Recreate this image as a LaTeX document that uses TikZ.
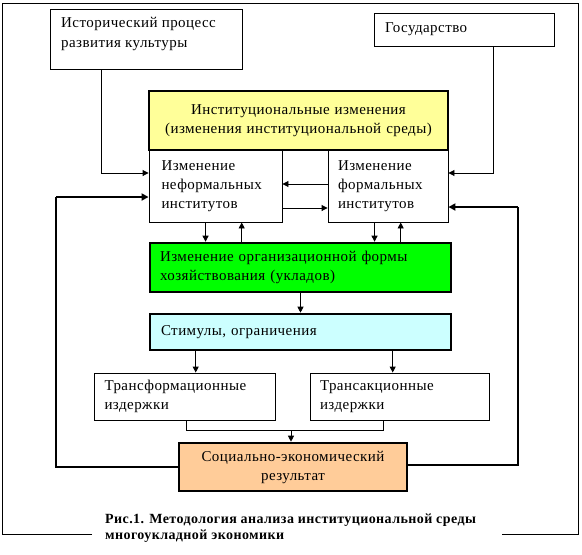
\documentclass[tikz,border=0pt]{standalone}
\usepackage{fontspec}
\setmainfont{Liberation Serif}[LetterSpace=3]
\newfontfamily\capfont{Liberation Serif}[LetterSpace=3]
\usetikzlibrary{arrows.meta,calc}
\definecolor{yel}{HTML}{FFFF99}
\definecolor{grn}{HTML}{00FF00}
\definecolor{cyn}{HTML}{CCFFFF}
\definecolor{org}{HTML}{FFCC99}
\begin{document}
\begin{tikzpicture}[x=1pt,y=-1pt,
  box/.style={draw=black, line width=0.9pt, fill=white, inner xsep=10pt, inner ysep=0pt,
    align=left, font=\fontsize{15}{19}\selectfont, anchor=center},
  tbox/.style={box, line width=2.6pt},
  arr/.style={line width=0.9pt, -{Triangle[length=6pt,width=6pt]}},
  tarr/.style={line width=2.4pt, -{Triangle[length=7pt,width=7pt]}},
  ln/.style={line width=0.9pt},
  tln/.style={line width=2.4pt}]
\useasboundingbox (0,0) rectangle (582,555);
\fill[white] (0,0) rectangle (582,555);
% frame
\draw[ln] (92,534) -- (2,534) -- (2,3) -- (578,3) -- (578,534) -- (502,534);
% boxes
\node[box, minimum width=192, minimum height=60, text width=172] (hist) at (146,39) {};
\node[anchor=north west, inner sep=0pt, align=left, font=\fontsize{15}{20}\selectfont] (histt) at (61,17.5) {Исторический процесс\\развития культуры};
\node[box, minimum width=180, minimum height=33, text width=158] (gos) at (464,29.5) {Государство};
\node[tbox, fill=yel, minimum width=299, minimum height=59, text width=285, inner xsep=7pt, align=center] (yel) at (298.5,120.5) {Институциональные изменения\\(изменения институциональной среды)};
\node[box, minimum width=133, minimum height=72, text width=108, inner xsep=12pt] (inf) at (215.5,186) {Изменение\\неформальных\\институтов};
\node[box, minimum width=120, minimum height=72, text width=100] (form) at (388,186) {Изменение\\формальных\\институтов};
\node[tbox, fill=grn, minimum width=301, minimum height=49, text width=281] (grn) at (300.5,267.5) {Изменение организационной формы\\хозяйствования (укладов)};
\node[tbox, fill=cyn, minimum width=301, minimum height=36, text width=279, inner xsep=11pt] (cyn) at (300.5,332) {Стимулы, ограничения};
\node[box, minimum width=181, minimum height=47, text width=160] (trf) at (184.5,396.5) {Трансформационные\\издержки};
\node[box, minimum width=179, minimum height=47, text width=159] (trs) at (399.5,396.5) {Трансакционные\\издержки};
\node[tbox, fill=org, minimum width=228, minimum height=48, text width=214, inner xsep=7pt, align=center] (soc) at (293,467) {Социально-экономический\\результат};
% caption
\node[anchor=west, inner sep=0pt, align=left, font=\capfont\bfseries\fontsize{14}{16.5}\selectfont] (cap) at (105,528) {Рис.1. Методология анализа институциональной среды\\многоукладной экономики};
% inputs
\draw[arr] ($(hist.south west)+(52,0)$) |- ($(inf.west)+(0,-13)$);
\draw[arr] ($(gos.south west)+(120,0)$) |- ($(form.east)+(0,-13)$);
% between inf and form
\draw[arr] ($(form.west)+(0,-2)$) -- ($(inf.east)+(0,-2)$);
\draw[arr] ($(inf.east)+(0,22)$) -- ($(form.west)+(0,22)$);
% inf/form <-> green
\coordinate (a1) at ($(inf.south west)+(57,0)$);
\coordinate (a2) at ($(grn.north west)+(93,0)$);
\coordinate (a3) at ($(form.south west)+(47,0)$);
\coordinate (a4) at ($(grn.north west)+(252,0)$);
\draw[arr] (a1) -- (a1 |- grn.north);
\draw[arr] (a2) -- (a2 |- inf.south);
\draw[arr] (a3) -- (a3 |- grn.north);
\draw[arr] (a4) -- (a4 |- form.south);
% green -> cyan
\draw[arr] (grn.south) -- (cyn.north);
% cyan -> costs
\coordinate (b1) at ($(cyn.south west)+(47,0)$);
\coordinate (b2) at ($(cyn.south west)+(244,0)$);
\draw[arr] (b1) -- (b1 |- trf.north);
\draw[arr] (b2) -- (b2 |- trs.north);
% costs -> result
\coordinate (c1) at ($(trf.south west)+(93,0)$);
\coordinate (c2) at ($(trs.south west)+(74,0)$);
\coordinate (cm) at ($(soc.north)+(-2,-11)$);
\draw[ln] (c1) |- (cm) -| (c2);
\draw[arr] (cm) -- (cm |- soc.north);
% feedback loops
\coordinate (fl) at (56,197);
\coordinate (fr) at (518,207);
\draw[tln] (soc.west) -| (fl);
\draw[tarr] (fl) -- (inf.west |- fl);
\draw[tln] ($(soc.east)+(0,-2)$) -| (fr);
\draw[tarr] (fr) -- (form.east |- fr);
\end{tikzpicture}
\end{document}
